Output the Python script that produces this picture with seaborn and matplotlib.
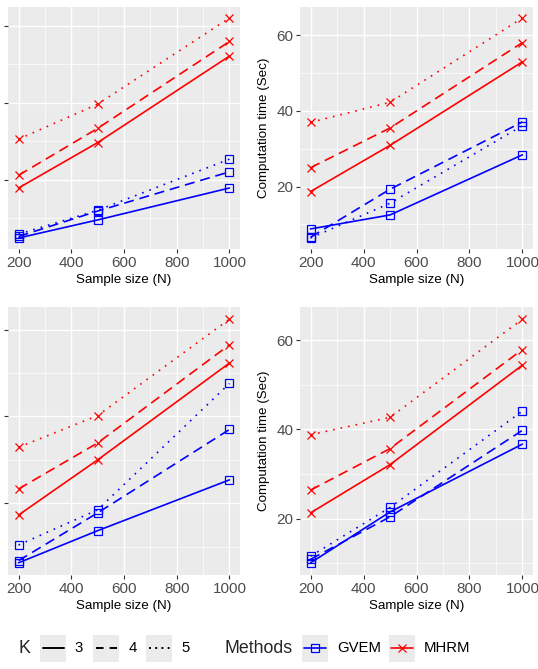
"""
Computation time vs sample size: GVEM vs MHRM for K = 3, 4, 5 (four panels)
"""
import pandas as pd
import matplotlib
matplotlib.use("Agg")
import matplotlib.pyplot as plt
import seaborn as sns
from matplotlib.patches import Rectangle

sns.set_theme(style="darkgrid", rc={
    "axes.facecolor": "#EBEBEB",
    "grid.color": "white",
})
plt.rcParams['font.family'] = ['Liberation Sans', 'DejaVu Sans']

SAMPLE_SIZES = [200, 500, 1000]
K_LEVELS = [3, 4, 5]
METHODS = ["GVEM", "MHRM"]

# rows: K = 3, 4, 5 ; columns: N = 200, 500, 1000
A_GVEM = [[4.8, 9.5, 17.8], [5.2, 11.8, 22.0], [5.8, 12.0, 25.3]]
A_MHRM = [[17.8, 29.6, 52.1], [21.1, 33.3, 55.9], [30.5, 39.6, 62.0]]
B_GVEM = [[8.8, 12.5, 28.4], [6.6, 19.3, 37.1], [6.4, 15.6, 36.1]]
B_MHRM = [[18.7, 30.9, 53.0], [25.0, 35.5, 58.1], [37.0, 42.3, 64.6]]
C_GVEM = [[6.3, 13.7, 25.4], [6.8, 17.8, 37.0], [10.4, 18.5, 47.6]]
C_MHRM = [[17.3, 30.0, 52.3], [23.3, 33.9, 56.5], [32.9, 40.2, 62.4]]
D_GVEM = [[10.1, 21.5, 36.7], [10.9, 20.4, 39.8], [11.6, 22.5, 44.1]]
D_MHRM = [[21.3, 32.1, 54.4], [26.4, 35.7, 57.9], [38.8, 42.7, 64.7]]

PANELS = {
    "A": {"GVEM": A_GVEM, "MHRM": A_MHRM},
    "B": {"GVEM": B_GVEM, "MHRM": B_MHRM},
    "C": {"GVEM": C_GVEM, "MHRM": C_MHRM},
    "D": {"GVEM": D_GVEM, "MHRM": D_MHRM},
}

COLORS = {"GVEM": "#0000FF", "MHRM": "#FF0000"}
MARKERS = {"GVEM": "s", "MHRM": "x"}
DASHES = {3: "", 4: (6, 3.5), 5: (1, 3.6)}
KEY_DASHES = {3: (None, None), 4: (3.9, 3.1), 5: (1, 2.2)}

rows = []
for panel, by_method in PANELS.items():
    for method, table in by_method.items():
        for k, values in zip(K_LEVELS, table):
            for n, t in zip(SAMPLE_SIZES, values):
                rows.append({"panel": panel, "Method": method, "K": k, "N": n, "time": t})
df = pd.DataFrame(rows)

W, H = 538, 669
fig = plt.figure(figsize=(W / 100, H / 100), dpi=100)

# panel boxes in pixels: (left, top, right, bottom)
BOXES = {
    "A": (8, 7, 240, 249),
    "B": (300, 7, 533, 249),
    "C": (8, 307, 240, 575),
    "D": (300, 307, 533, 575),
}


def style_axis(ax, show_ylabels):
    ax.set_xticks([200, 400, 600, 800, 1000])
    ax.set_xticks([300, 500, 700, 900], minor=True)
    ax.set_yticks([20, 40, 60])
    ax.set_yticks([10, 30, 50], minor=True)
    ax.grid(which="major", color="white", lw=1.0)
    ax.grid(which="minor", color="white", lw=0.5)
    for s in ax.spines.values():
        s.set_visible(False)
    ax.tick_params(which="major", length=2.75, width=0.8, color="#333333",
                   labelcolor="#4D4D4D", labelsize=11, pad=2.0,
                   bottom=True, left=True)
    ax.tick_params(which="minor", length=0)
    ax.set_xlabel("Sample size (N)", fontsize=9.6, color="black")
    if show_ylabels:
        ax.set_ylabel("Computation time (Sec)", fontsize=9.6, color="black")
    else:
        ax.set_ylabel("")
        ax.set_yticklabels([])


for panel, (l, t, r, b) in BOXES.items():
    ax = fig.add_axes([l / W, 1 - b / H, (r - l) / W, (b - t) / H])
    for m in METHODS:
        sub = df[(df.panel == panel) & (df.Method == m)]
        sns.lineplot(data=sub, x="N", y="time", style="K", dashes=DASHES,
                     color=COLORS[m], marker=MARKERS[m], markersize=5.5,
                     markerfacecolor="none", markeredgecolor=COLORS[m],
                     markeredgewidth=0.9, linewidth=1.2, legend=False, ax=ax)
    ax.margins(x=0.05, y=0.05)
    style_axis(ax, panel in ("B", "D"))
    ax.xaxis.set_label_coords(0.5, -25.5 / (b - t))
    ax.yaxis.set_label_coords(-0.129, 0.5)

# bottom legend drawn by hand, ggplot-like
lg = fig.add_axes([0, 0, 1, 54 / H])
lg.set_xlim(0, W)
lg.set_ylim(H, H - 54)
lg.axis("off")
yc = 648

lg.text(24, yc, "K", fontsize=12.8, ha="center", va="center")
for x0, k, lab_x in [(40, 3, 79), (93, 4, 133), (146, 5, 186)]:
    lg.add_patch(Rectangle((x0, yc - 13), 26, 27, color="#EBEBEB", lw=0))
    lg.plot([x0 + 2.5, x0 + 23.5], [yc, yc], color="black", lw=1.4,
            dashes=KEY_DASHES[k], dash_capstyle="butt")
    lg.text(lab_x, yc, str(k), fontsize=10.7, ha="center", va="center", color="black")

lg.text(225, yc, "Methods", fontsize=12.8, ha="left", va="center")
for x0, m, lab_x in [(302, "GVEM", 337), (389, "MHRM", 424)]:
    lg.add_patch(Rectangle((x0, yc - 13), 26, 27, color="#EBEBEB", lw=0))
    lg.plot([x0 + 2, x0 + 24], [yc, yc], color=COLORS[m], lw=1.2)
    lg.plot([x0 + 13], [yc], color=COLORS[m], marker=MARKERS[m], markersize=5.5,
            markerfacecolor="none", markeredgewidth=0.9)
    lg.text(lab_x, yc, m, fontsize=10.7, ha="left", va="center", color="black")

plt.savefig("out.png", dpi=100)
plt.close()
